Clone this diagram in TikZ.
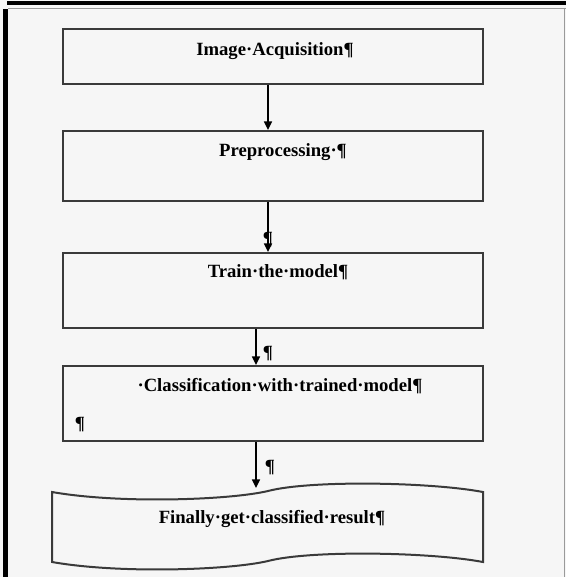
\documentclass[tikz,border=0pt]{standalone}
\usepackage{fontspec}
\setmainfont{Liberation Serif}
\usetikzlibrary{arrows.meta}
\definecolor{pagegray}{HTML}{F6F6F6}
\definecolor{linegray}{HTML}{3A3A3A}
\definecolor{rulegray}{HTML}{9A9A9A}

\begin{document}
\begin{tikzpicture}
      [ x = .75pt, y = -.75pt
      , box/.style =
        { draw = linegray, line width = 1.5pt, minimum width = 315pt, inner sep = 0pt }
      , flow/.style =
        { line width = 1.1pt, -{Triangle[length=6.5pt,width=6pt]} }
      , caption/.style =
        { font = \bfseries\fontsize{14}{16}\selectfont, inner sep = 0pt, anchor = base }
      , pilcrow/.style =
        { caption }
      ]
      % page and frame
      \fill [pagegray] (0,0) rectangle (566,577);
      \useasboundingbox (0,0) rectangle (566,577);
      \fill [black] (7,1) rectangle (566,5);
      \fill [black] (3,9) rectangle (8,577);
      \draw [rulegray, line width = .9pt] (8,8.5) -- (566,8.5);
      \draw [rulegray, line width = 1.1pt] (564.5,9) -- (564.5,577);
      % boxes
      \node [box, minimum height = 41.25pt] (acq) at (273, 56.5) {};
      \node [box, minimum height = 52.5pt] (pre) at (273, 166) {};
      \node [box, minimum height = 56.25pt] (train) at (273, 290.5) {};
      \node [box, minimum height = 56.25pt] (cls) at (273, 403.5) {};
      \draw [linegray, line width = 1.5pt]
        (52,492) .. controls (120,504) and (230,500) .. (268,491)
        .. controls (310,480) and (430,482) .. (483,492)
        -- (483,562)
        .. controls (430,552) and (310,550) .. (268,561)
        .. controls (230,570) and (120,574) .. (52,562) -- cycle;
      \coordinate (res) at (256,488);
      % captions
      \node [caption] (t1) at (275, 56) {Image·Acquisition¶};
      \node [caption] (t2) at (283, 157) {Preprocessing·¶};
      \node [caption] (t3) at (278, 277) {Train·the·model¶};
      \node [caption] (t4) at (280, 391) {·Classification·with·trained·model¶};
      \node [pilcrow] (p1) at (80, 429) {¶};
      \node [caption] (t5) at (272, 523) {Finally·get·classified·result¶};
      % arrows
      \draw [flow] (acq.south -| 268,0) -- (pre.north -| 268,0);
      \draw [flow] (pre.south -| 268,0) -- (train.north -| 268,0);
      \draw [flow] (train.south -| 256,0) -- (cls.north -| 256,0);
      \draw [flow] (cls.south -| 256,0) -- (res);
      \node [pilcrow] (p2) at (268, 244) {¶};
      \node [pilcrow] (p3) at (268, 358) {¶};
      \node [pilcrow] (p4) at (270, 472) {¶};
    \end{tikzpicture}
\end{document}
